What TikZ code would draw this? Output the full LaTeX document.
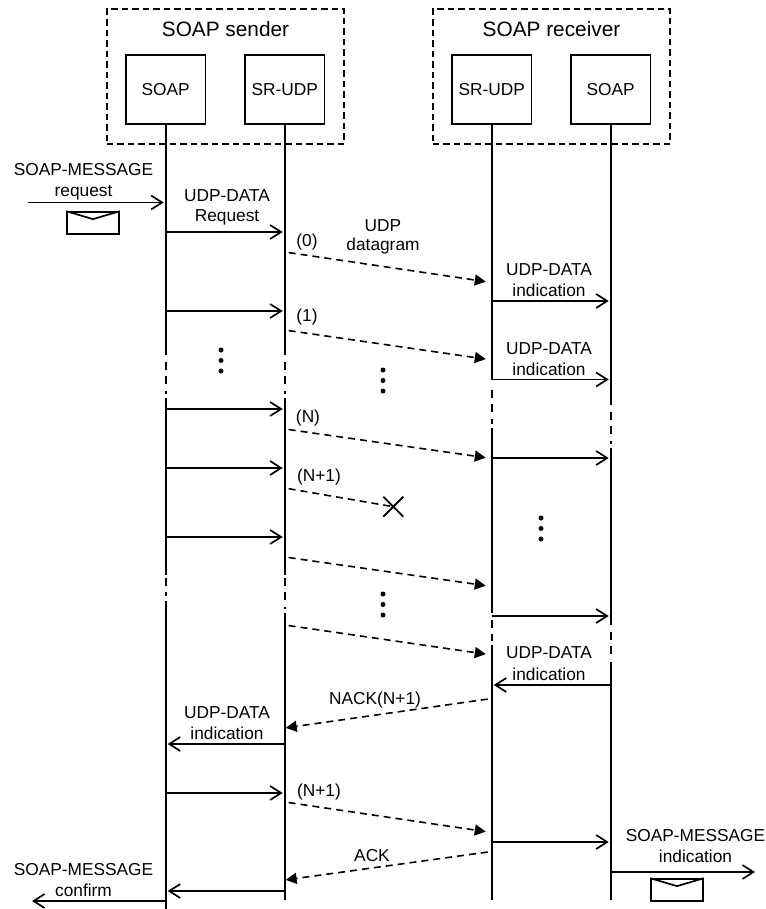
\documentclass[tikz,border=0pt]{standalone}
\usepackage{fontspec}
\setmainfont{Liberation Sans}
\usetikzlibrary{shapes,arrows.meta,calc}
\tikzstyle{group} = [rectangle, dash pattern=on 6.5pt off 4pt, draw=black, line width=1.7pt, minimum width=237.6pt, minimum height=134.4pt, inner sep=0pt]
\tikzstyle{entity} = [rectangle, draw=black, line width=1.7pt, minimum width=79.5pt, minimum height=69pt, inner sep=0pt, text height=13.3pt, text depth=0pt, font=\fontsize{17.3}{20}\selectfont]
\tikzstyle{title} = [inner sep=0pt, anchor=base, font=\fontsize{20.8}{24}\selectfont]
\tikzstyle{lbl} = [inner sep=0pt, anchor=base, font=\fontsize{17.3}{21}\selectfont]
\tikzstyle{env} = [rectangle, draw=black, line width=1.7pt, minimum width=52pt, minimum height=22pt, inner sep=0pt]
\tikzstyle{life} = [line width=1.8pt]
\tikzstyle{lifegap} = [line width=1.8pt, dash pattern=on 8pt off 6.5pt, dash phase=8pt]
\tikzstyle{call} = [line width=1.8pt, -{Straight Barb[length=11pt,width=14pt,line width=1.7pt]}, shorten >=2pt]
\tikzstyle{datagram} = [line width=1.6pt, dash pattern=on 7pt off 5pt, shorten <=4pt]
\tikzstyle{datagramr} = [datagram, -{Triangle[length=11pt,width=11pt]}, shorten >=6pt]
\tikzstyle{datagraml} = [datagram, -{Triangle[length=11pt,width=11pt]}, shorten >=1pt]
\tikzstyle{lost} = [cross out, draw=black, line width=1.9pt, minimum size=18pt, inner sep=0pt]
\newcommand{\dotcol}[2]{\fill (#1,#2) circle (2.5pt) (#1,#2+10.5) circle (2.5pt) (#1,#2+21) circle (2.5pt);}

\begin{document}
\begin{tikzpicture}[x=1pt, y=-1pt]
        \useasboundingbox (0,0) rectangle (765,909);
        % groups and entities
        \node (sender) [group] at (225.5,76.5) {};
        \node (receiver) [group] at (551.5,76.5) {};
        \node (sendertitle) [title] at (225.5,36.7) {SOAP sender};
        \node (receivertitle) [title] at (551.5,36.7) {SOAP receiver};
        \node (soapa) [entity] at (165.7,89.3) {SOAP};
        \node (udpa) [entity] at (284.7,89.3) {SR-UDP};
        \node (udpb) [entity] at (491.7,89.3) {SR-UDP};
        \node (soapb) [entity] at (610.7,89.3) {SOAP};
        % lifelines
        \draw [life] (soapa.south) -- (soapa |- 0,355);
        \draw [lifegap] (soapa |- 0,355) -- (soapa |- 0,394);
        \draw [life] (soapa |- 0,398) -- (soapa |- 0,575);
        \draw [lifegap] (soapa |- 0,571) -- (soapa |- 0,596);
        \draw [life] (soapa |- 0,601) -- (soapa |- 0,909);
        \draw [life] (udpa.south) -- (udpa |- 0,355);
        \draw [lifegap] (udpa |- 0,355) -- (udpa |- 0,394);
        \draw [life] (udpa |- 0,398) -- (udpa |- 0,575);
        \draw [lifegap] (udpa |- 0,571) -- (udpa |- 0,609);
        \draw [life] (udpa |- 0,613) -- (udpa |- 0,900);
        \draw [life] (udpb.south) -- (udpb |- 0,380);
        \draw [lifegap] (udpb |- 0,383) -- (udpb |- 0,424);
        \draw [life] (udpb |- 0,428) -- (udpb |- 0,613);
        \draw [lifegap] (udpb |- 0,613) -- (udpb |- 0,641);
        \draw [life] (udpb |- 0,645) -- (udpb |- 0,900);
        \draw [life] (soapb.south) -- (soapb |- 0,405);
        \draw [lifegap] (soapb |- 0,405) -- (soapb |- 0,444);
        \draw [life] (soapb |- 0,448) -- (soapb |- 0,625);
        \draw [lifegap] (soapb |- 0,625) -- (soapb |- 0,658);
        \draw [life] (soapb |- 0,662) -- (soapb |- 0,900);
        % outside ends
        \coordinate (reqstart) at (28,202.5);
        \coordinate (indend) at (757,872);
        \coordinate (confend) at (30,901);
        % calls sender side
        \draw [call] (reqstart) -- (soapa |- reqstart);
        \draw [call] (soapa |- 0,232) -- (udpa |- 0,232);
        \draw [call] (soapa |- 0,311) -- (udpa |- 0,311);
        \draw [call] (soapa |- 0,409) -- (udpa |- 0,409);
        \draw [call] (soapa |- 0,468) -- (udpa |- 0,468);
        \draw [call] (soapa |- 0,537) -- (udpa |- 0,537);
        \draw [call] (udpa |- 0,744) -- (soapa |- 0,744);
        \draw [call] (soapa |- 0,793) -- (udpa |- 0,793);
        \draw [call] (udpa |- 0,891) -- (soapa |- 0,891);
        \draw [call] (soapa |- confend) -- (confend);
        % calls receiver side
        \draw [call] (udpb |- 0,301) -- (soapb |- 0,301);
        \draw [call] (udpb |- 0,379.5) -- (soapb |- 0,379.5);
        \draw [call] (udpb |- 0,458) -- (soapb |- 0,458);
        \draw [call] (udpb |- 0,616) -- (soapb |- 0,616);
        \draw [call] (soapb |- 0,685) -- (udpb |- 0,685);
        \draw [call] (udpb |- 0,842) -- (soapb |- 0,842);
        \draw [call] (soapb |- indend) -- (indend);
        % datagrams
        \draw [datagramr] (udpa |- 0,252) -- (udpb |- 0,282.5);
        \draw [datagramr] (udpa |- 0,330) -- (udpb |- 0,360);
        \draw [datagramr] (udpa |- 0,429) -- (udpb |- 0,458.5);
        \draw [datagramr] (udpa |- 0,557) -- (udpb |- 0,586.5);
        \draw [datagramr] (udpa |- 0,625) -- (udpb |- 0,655);
        \draw [datagraml] (udpb |- 0,698.5) -- (udpa |- 0,728);
        \draw [datagramr] (udpa |- 0,802) -- (udpb |- 0,832.5);
        \draw [datagraml] (udpb |- 0,851.5) -- (udpa |- 0,880);
        % lost datagram
        \node (lostmark) [lost] at (393.3,506.7) {};
        \draw [datagram] (udpa |- 0,488) -- (lostmark.center);
        % labels
        \node (reqlbl) [lbl] at (83.5,176) {SOAP-MESSAGE};
        \node (reqlbl2) [lbl] at (83.5,197) {request};
        \node (datalbl) [lbl] at (227,201.7) {UDP-DATA};
        \node (datalbl2) [lbl] at (227,221.7) {Request};
        \node (udplbl) [lbl] at (383,231) {UDP};
        \node (udplbl2) [lbl] at (383,251) {datagram};
        \node (seqzero) [lbl] at (307,246) {(0)};
        \node (seqone) [lbl] at (307,321.5) {(1)};
        \node (seqn) [lbl] at (308,422.7) {(N)};
        \node (seqna) [lbl] at (319,481.7) {(N+1)};
        \node (seqnb) [lbl] at (319,796.7) {(N+1)};
        \node (indafirst) [lbl] at (549,275) {UDP-DATA};
        \node (indasecond) [lbl] at (549,296) {indication};
        \node (indbfirst) [lbl] at (549,354) {UDP-DATA};
        \node (indbsecond) [lbl] at (549,375) {indication};
        \node (indcfirst) [lbl] at (549,658) {UDP-DATA};
        \node (indcsecond) [lbl] at (549,680) {indication};
        \node (inddfirst) [lbl] at (227,718.3) {UDP-DATA};
        \node (inddsecond) [lbl] at (227,739.3) {indication};
        \node (nacklbl) [lbl] at (375,704.3) {NACK(N+1)};
        \node (acklbl) [lbl] at (372,861) {ACK};
        \node (msglbl) [lbl] at (695.5,841.7) {SOAP-MESSAGE};
        \node (msglbl2) [lbl] at (695.5,862.3) {indication};
        \node (conflbl) [lbl] at (83.5,875.7) {SOAP-MESSAGE};
        \node (conflbl2) [lbl] at (83.5,896) {confirm};
        % envelopes
        \node (enva) [env] at (93,223) {};
        \draw [line width=1.7pt] (enva.north west) -- ($(enva.north)+(0,8)$) -- (enva.north east);
        \node (envb) [env] at (677,890) {};
        \draw [line width=1.7pt] (envb.north west) -- ($(envb.north)+(0,8)$) -- (envb.north east);
        % dots
        \dotcol{221}{350}
        \dotcol{383}{370}
        \dotcol{541}{518}
        \dotcol{383}{594}
    \end{tikzpicture}
\end{document}
